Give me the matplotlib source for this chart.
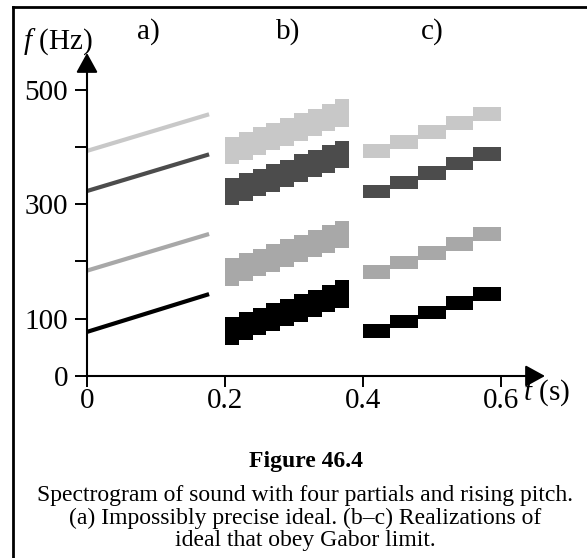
import matplotlib
matplotlib.use("Agg")
import matplotlib.pyplot as plt
from matplotlib.lines import Line2D

plt.rcParams['font.family'] = ['Liberation Serif', 'DejaVu Serif']
plt.rcParams['mathtext.fontset'] = 'custom'
plt.rcParams['mathtext.rm'] = 'Liberation Serif'
plt.rcParams['mathtext.it'] = 'Liberation Serif:italic'

# partial colours, bottom to top
colors = ['#000000', '#a8a8a8', '#4c4c4c', '#c8c8c8']

# (a) ideal lines: start and end frequency of each partial
a_times = [0.0, 0.177]
a_start = [77, 184, 323, 393]
a_end = [143, 248, 387, 457]

# (b) narrow time windows
b_times = [0.20, 0.22, 0.24, 0.26, 0.28, 0.30, 0.32, 0.34, 0.36]
b_width = 0.02
b_height = 48
b_freqs = [
    [79, 87, 95, 103, 111, 119, 127, 135, 143],
    [182, 190, 198, 206, 215, 223, 231, 239, 247],
    [322, 330, 338, 346, 354, 363, 371, 379, 387],
    [394, 402, 410, 418, 426, 435, 443, 451, 459],
]

# (c) wide time windows
c_times = [0.40, 0.44, 0.48, 0.52, 0.56]
c_width = 0.04
c_height = 24
c_freqs = [
    [79, 95, 111, 127, 143],
    [182, 198, 215, 231, 248],
    [322, 338, 354, 371, 387],
    [393, 409, 426, 442, 458],
]

yticks = [0, 100, 200, 300, 400, 500]
ytick_labels = ['0', '100', '', '300', '', '500']
xticks = [0, 0.2, 0.4, 0.6]
xtick_labels = ['0', '0.2', '0.4', '0.6']

W, H = 587, 558
fig = plt.figure(figsize=(W / 100, H / 100), dpi=100)
ax = fig.add_axes([87 / W, (H - 376) / H, 458 / W, 323 / H])

for i in range(4):
    ax.plot(a_times, [a_start[i], a_end[i]], color=colors[i], lw=3,
            solid_capstyle='butt')
    ax.bar(b_times, b_height, width=b_width, align='edge',
           bottom=[f - b_height / 2 for f in b_freqs[i]],
           color=colors[i], linewidth=0)
    ax.bar(c_times, c_height, width=c_width, align='edge',
           bottom=[f - c_height / 2 for f in c_freqs[i]],
           color=colors[i], linewidth=0)

ax.set_xlim(0, 0.664)
ax.set_ylim(0, 564)
for s in ax.spines.values():
    s.set_visible(False)

# axes with arrow heads
arrow = dict(arrowstyle='-|>,head_length=0.4,head_width=0.22', color='k',
             lw=1.5, mutation_scale=30, shrinkA=0, shrinkB=0)
ax.annotate('', xy=(1, 0), xytext=(0, 0), xycoords='axes fraction',
            textcoords='axes fraction', arrowprops=arrow, annotation_clip=False)
ax.annotate('', xy=(0, 1), xytext=(0, 0), xycoords='axes fraction',
            textcoords='axes fraction', arrowprops=arrow, annotation_clip=False)

ax.set_yticks(yticks)
ax.set_yticklabels(ytick_labels)
ax.set_xticks(xticks)
ax.set_xticklabels(xtick_labels)
ax.tick_params(axis='y', length=8.6, width=1.4, pad=5, labelsize=21)
ax.tick_params(axis='x', length=8, width=1.4, pad=1, labelsize=21)

def fx(px):
    return px / W

def fy(py):
    return 1 - py / H

fig.text(fx(23), fy(42), r'$f$ (Hz)', fontsize=21, ha='left', va='center')
fig.text(fx(523), fy(393), r'$t$ (s)', fontsize=21, ha='left', va='center')
fig.text(fx(148), fy(32), 'a)', fontsize=21, ha='center', va='center')
fig.text(fx(288), fy(32), 'b)', fontsize=21, ha='center', va='center')
fig.text(fx(432), fy(32), 'c)', fontsize=21, ha='center', va='center')

fig.text(fx(306), fy(461), 'Figure 46.4', fontsize=17, fontweight='bold',
         ha='center', va='center')
fig.text(fx(305), fy(518),
         'Spectrogram of sound with four partials and rising pitch.\n'
         '(a) Impossibly precise ideal. (b\u2013c) Realizations of\n'
         'ideal that obey Gabor limit.',
         fontsize=17, ha='center', va='center', linespacing=1.1)

# frame around the figure (left and top edges only)
fig.add_artist(Line2D([fx(13), fx(13)], [fy(7), 0], color='k', lw=2))
fig.add_artist(Line2D([fx(13), 1], [fy(7), fy(7)], color='k', lw=2))

fig.savefig('out.png', dpi=100)
